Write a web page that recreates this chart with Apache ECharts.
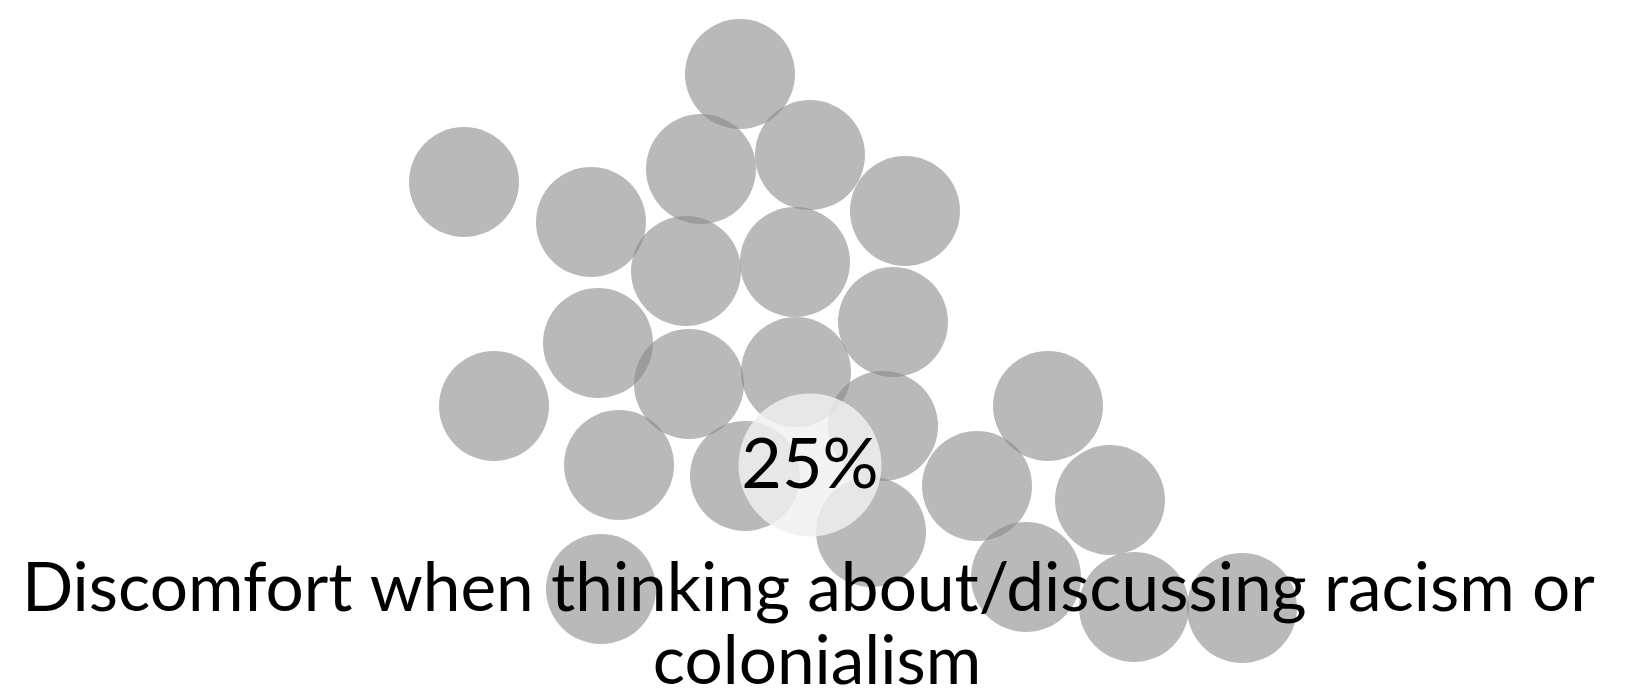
<!DOCTYPE html>
<html>
<head>
<meta charset="utf-8">
<script src="https://cdn.jsdelivr.net/npm/echarts@6/dist/echarts.min.js"></script>
<style>
html,body{margin:0;padding:0;background:#ffffff;}
#chart{width:1634px;height:692px;}
</style>
</head>
<body>
<div id="chart"></div>
<script>
// Bubble positions (layout units)
const bubbleX = [740, 464, 701, 810, 591, 905, 686, 795, 893, 598, 494, 689, 796, 883, 1048, 619, 745, 977, 1110, 871, 1026, 601, 1134, 1242];
const bubbleY = [74, 182, 169, 155, 222, 211, 271, 262, 322, 343, 406, 384, 372, 426, 406, 465, 476, 486, 500, 532, 577, 589, 607, 608];
// Highlighted bubble
const highlightX = [810];
const highlightY = [465];
const highlightLabels = ['25%'];
// Title lines
const titleLines = ['Discomfort when thinking about/discussing racism or ', 'colonialism'];

const chart = echarts.init(document.getElementById('chart'), null, {renderer: 'canvas'});
const FONT = 'Lato, "Open Sans", sans-serif';

const option = {
  backgroundColor: '#ffffff',
  animation: false,
  title: {
    text: titleLines.join('\n'),
    left: 'center',
    top: 548,
    textStyle: {
      fontFamily: FONT,
      fontSize: 67.5,
      fontWeight: 'normal',
      color: '#000000',
      lineHeight: 73
    }
  },
  grid: {left: 0, right: 0, top: 0, bottom: 0},
  xAxis: {type: 'value', min: 0, max: 1634, show: false},
  yAxis: {type: 'value', min: 0, max: 692, inverse: true, show: false},
  series: [
    {
      type: 'scatter',
      symbol: 'circle',
      symbolSize: 110,
      data: bubbleX.map((x, i) => [x, bubbleY[i]]),
      itemStyle: {color: 'rgba(136,136,136,0.59)', opacity: 1},
      emphasis: {disabled: true},
      silent: true,
      z: 2
    },
    {
      type: 'scatter',
      symbol: 'circle',
      symbolSize: 143,
      data: highlightX.map((x, i) => ({value: [x, highlightY[i]], name: highlightLabels[i]})),
      itemStyle: {color: 'rgba(240,240,240,0.83)', opacity: 1},
      label: {
        show: true,
        position: 'inside',
        formatter: p => p.name,
        fontFamily: FONT,
        fontSize: 70,
        color: '#000000'
      },
      emphasis: {disabled: true},
      silent: true,
      z: 3
    }
  ]
};
chart.setOption(option);
</script>
</body>
</html>
